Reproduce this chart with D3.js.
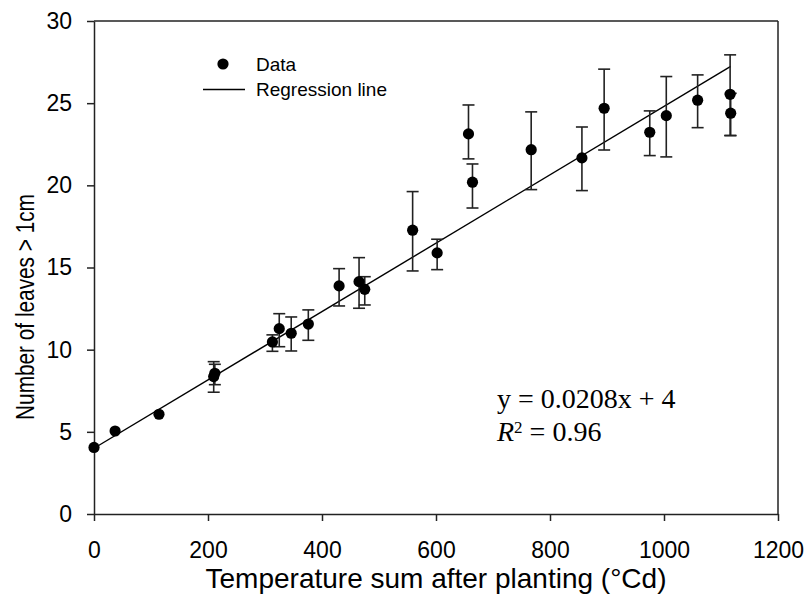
<!DOCTYPE html>
<html>
<head>
<meta charset="utf-8">
<script src="https://cdn.jsdelivr.net/npm/d3@7"></script>
<style>
  body { margin: 0; background: #fff; }
  svg { display: block; }
</style>
</head>
<body>
<svg id="chart" width="810" height="606"></svg>
<script>
// ---- data ----
const tempSum = [0, 37, 114, 210, 212, 313, 325, 346, 376, 430, 465, 475, 559, 602, 657, 664, 767, 856, 895, 975, 1004, 1059, 1116, 1117];
const leaves  = [4.05, 5.05, 6.07, 8.36, 8.56, 10.47, 11.28, 11.0, 11.56, 13.88, 14.14, 13.67, 17.27, 15.89, 23.13, 20.19, 22.17, 21.67, 24.69, 23.23, 24.24, 25.18, 25.54, 24.39];
const errLow  = [null, null, null, 7.41, 7.87, 9.9, 10.18, 9.92, 10.57, 12.66, 12.52, 12.72, 14.79, 14.87, 21.61, 18.62, 19.74, 19.68, 22.15, 21.81, 21.73, 23.51, 23.03, 23.03];
const errHigh = [null, null, null, 9.27, 9.11, 10.9, 12.19, 11.99, 12.42, 14.93, 15.6, 14.44, 19.62, 16.72, 24.89, 21.3, 24.47, 23.55, 27.07, 24.53, 26.62, 26.72, 27.94, 25.6];
const slope = 0.0208, intercept = 4;
const xTicks = [0, 200, 400, 600, 800, 1000, 1200];
const yTicks = [0, 5, 10, 15, 20, 25, 30];
const xTitle = "Temperature sum after planting (°Cd)";
const yTitle = "Number of leaves > 1cm";
const legendLabels = ["Data", "Regression line"];

// ---- layout ----
const L = 94, R = 778, T = 21, B = 514;
const svg = d3.select("#chart");
const x = d3.scaleLinear().domain([0, 1200]).range([L, R]);
const y = d3.scaleLinear().domain([0, 30]).range([B, T]);
const axisColor = "#222";
const sans = "'Liberation Sans', Arial, sans-serif";

// frame (top & right)
svg.append("line").attr("x1", L).attr("x2", R).attr("y1", T).attr("y2", T)
  .attr("stroke", axisColor).attr("stroke-width", 1.5);
svg.append("line").attr("x1", R).attr("x2", R).attr("y1", T).attr("y2", B)
  .attr("stroke", axisColor).attr("stroke-width", 1.5);

// axes
const gx = svg.append("g").attr("transform", `translate(0,${B})`)
  .call(d3.axisBottom(x).tickValues(xTicks).tickFormat(d3.format("d")).tickSize(7).tickPadding(21).tickSizeOuter(0));
const gy = svg.append("g").attr("transform", `translate(${L},0)`)
  .call(d3.axisLeft(y).tickValues(yTicks).tickFormat(d3.format("d")).tickSize(7).tickPadding(15).tickSizeOuter(0));
[gx, gy].forEach(g => {
  g.select(".domain").attr("stroke", axisColor).attr("stroke-width", 1.5);
  g.selectAll(".tick line").attr("stroke", axisColor).attr("stroke-width", 1.5);
  g.selectAll(".tick text").attr("fill", "#000").style("font-family", sans).style("font-size", "23px");
});

// titles
svg.append("text").attr("x", (L + R) / 2).attr("y", 588).attr("text-anchor", "middle")
  .style("font-family", sans).style("font-size", "28px").attr("fill", "#000").text(xTitle);
svg.append("text").attr("transform", "translate(34,307) rotate(-90) scale(0.8,1)").attr("text-anchor", "middle")
  .style("font-family", sans).style("font-size", "26px").attr("fill", "#000").text(yTitle);

// regression line
const maxX = d3.max(tempSum);
svg.append("line")
  .attr("x1", x(0)).attr("y1", y(intercept))
  .attr("x2", x(maxX)).attr("y2", y(slope * maxX + intercept))
  .attr("stroke", "#000").attr("stroke-width", 1.4);

// error bars
const pts = tempSum.map((t, i) => ({ t, v: leaves[i], lo: errLow[i], hi: errHigh[i] }));
const eb = svg.append("g").attr("stroke", "#222").attr("stroke-width", 1.6).attr("fill", "none");
const cap = 6;
pts.filter(d => d.lo !== null).forEach(d => {
  eb.append("line").attr("x1", x(d.t)).attr("x2", x(d.t)).attr("y1", y(d.lo)).attr("y2", y(d.hi));
  eb.append("line").attr("x1", x(d.t) - cap).attr("x2", x(d.t) + cap).attr("y1", y(d.lo)).attr("y2", y(d.lo));
  eb.append("line").attr("x1", x(d.t) - cap).attr("x2", x(d.t) + cap).attr("y1", y(d.hi)).attr("y2", y(d.hi));
});

// points
svg.append("g").selectAll("circle").data(pts).join("circle")
  .attr("cx", d => x(d.t)).attr("cy", d => y(d.v)).attr("r", 5.6).attr("fill", "#000");

// legend
svg.append("circle").attr("cx", 223).attr("cy", 64).attr("r", 5.6).attr("fill", "#000");
svg.append("text").attr("x", 256).attr("y", 71).style("font-family", sans).style("font-size", "19px")
  .attr("fill", "#000").text(legendLabels[0]);
svg.append("line").attr("x1", 203).attr("x2", 245).attr("y1", 89.5).attr("y2", 89.5)
  .attr("stroke", "#000").attr("stroke-width", 1.4);
svg.append("text").attr("x", 256).attr("y", 96).style("font-family", sans).style("font-size", "19px")
  .attr("fill", "#000").text(legendLabels[1]);

// equation
const serif = "'Liberation Serif', 'Times New Roman', serif";
svg.append("text").attr("x", 497).attr("y", 408).style("font-family", serif).style("font-size", "28px")
  .attr("fill", "#000").text(`y = ${slope}x + ${intercept}`);
const r2 = svg.append("text").attr("x", 497).attr("y", 441).style("font-family", serif).style("font-size", "28px")
  .attr("fill", "#000");
r2.append("tspan").style("font-style", "italic").text("R");
r2.append("tspan").attr("dy", -8).style("font-size", "17px").text("2");
r2.append("tspan").attr("dy", 8).text(" = 0.96");
</script>
</body>
</html>
